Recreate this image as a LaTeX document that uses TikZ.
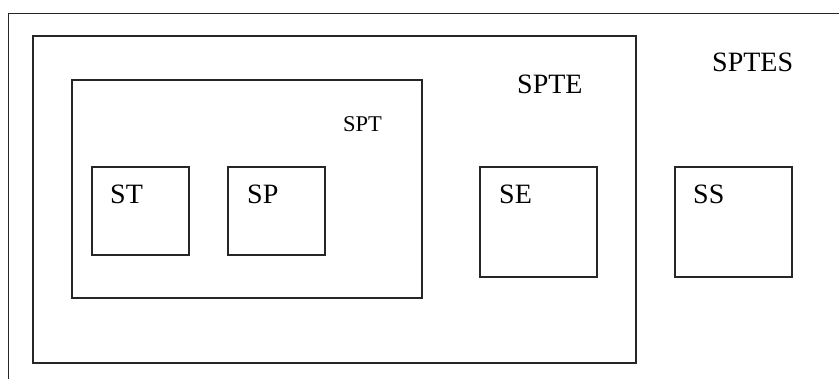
\documentclass[tikz,border=0pt]{standalone}
\usepackage{fontspec}
\setmainfont{Liberation Serif}
\begin{document}
\begin{tikzpicture}[x=1pt,y=-1pt,
  frame/.style={draw=black!85,line width=1.7pt},
  boxnode/.style={frame,rectangle,inner sep=0pt,anchor=north west},
  lbl/.style={anchor=base west,inner sep=0pt,font=\fontsize{28}{30}\selectfont},
  smalllbl/.style={anchor=base west,inner sep=0pt,font=\fontsize{22.5}{24}\selectfont}]
\useasboundingbox (0,0) rectangle (839,378);
% outer open frame
\coordinate (obl) at (8.5,380);
\coordinate (otl) at (8.5,13.5);
\coordinate (otr) at (841,13.5);
\draw[frame] (obl) -- (otl) -- (otr);
% boxes
\node[boxnode,minimum width=603pt,minimum height=327pt] (spte) at (32,35) {};
\node[boxnode,minimum width=350pt,minimum height=218pt] (spt) at (71,79) {};
\node[boxnode,minimum width=97pt,minimum height=88pt] (st) at (91,166) {};
\node[boxnode,minimum width=97pt,minimum height=88pt] (sp) at (227,166) {};
\node[boxnode,minimum width=117pt,minimum height=110pt] (se) at (479,166) {};
\node[boxnode,minimum width=117pt,minimum height=110pt] (ss) at (674,166) {};
% labels
\node[lbl] (tsptes) at (712,71) {SPTES};
\node[lbl] (tspte) at (517,93) {SPTE};
\node[smalllbl] (tspt) at (343,131) {SPT};
\node[lbl] (tst) at (110,203) {ST};
\node[lbl] (tsp) at (247,203) {SP};
\node[lbl] (tse) at (499,203) {SE};
\node[lbl] (tss) at (693,203) {SS};
\end{tikzpicture}
\end{document}
